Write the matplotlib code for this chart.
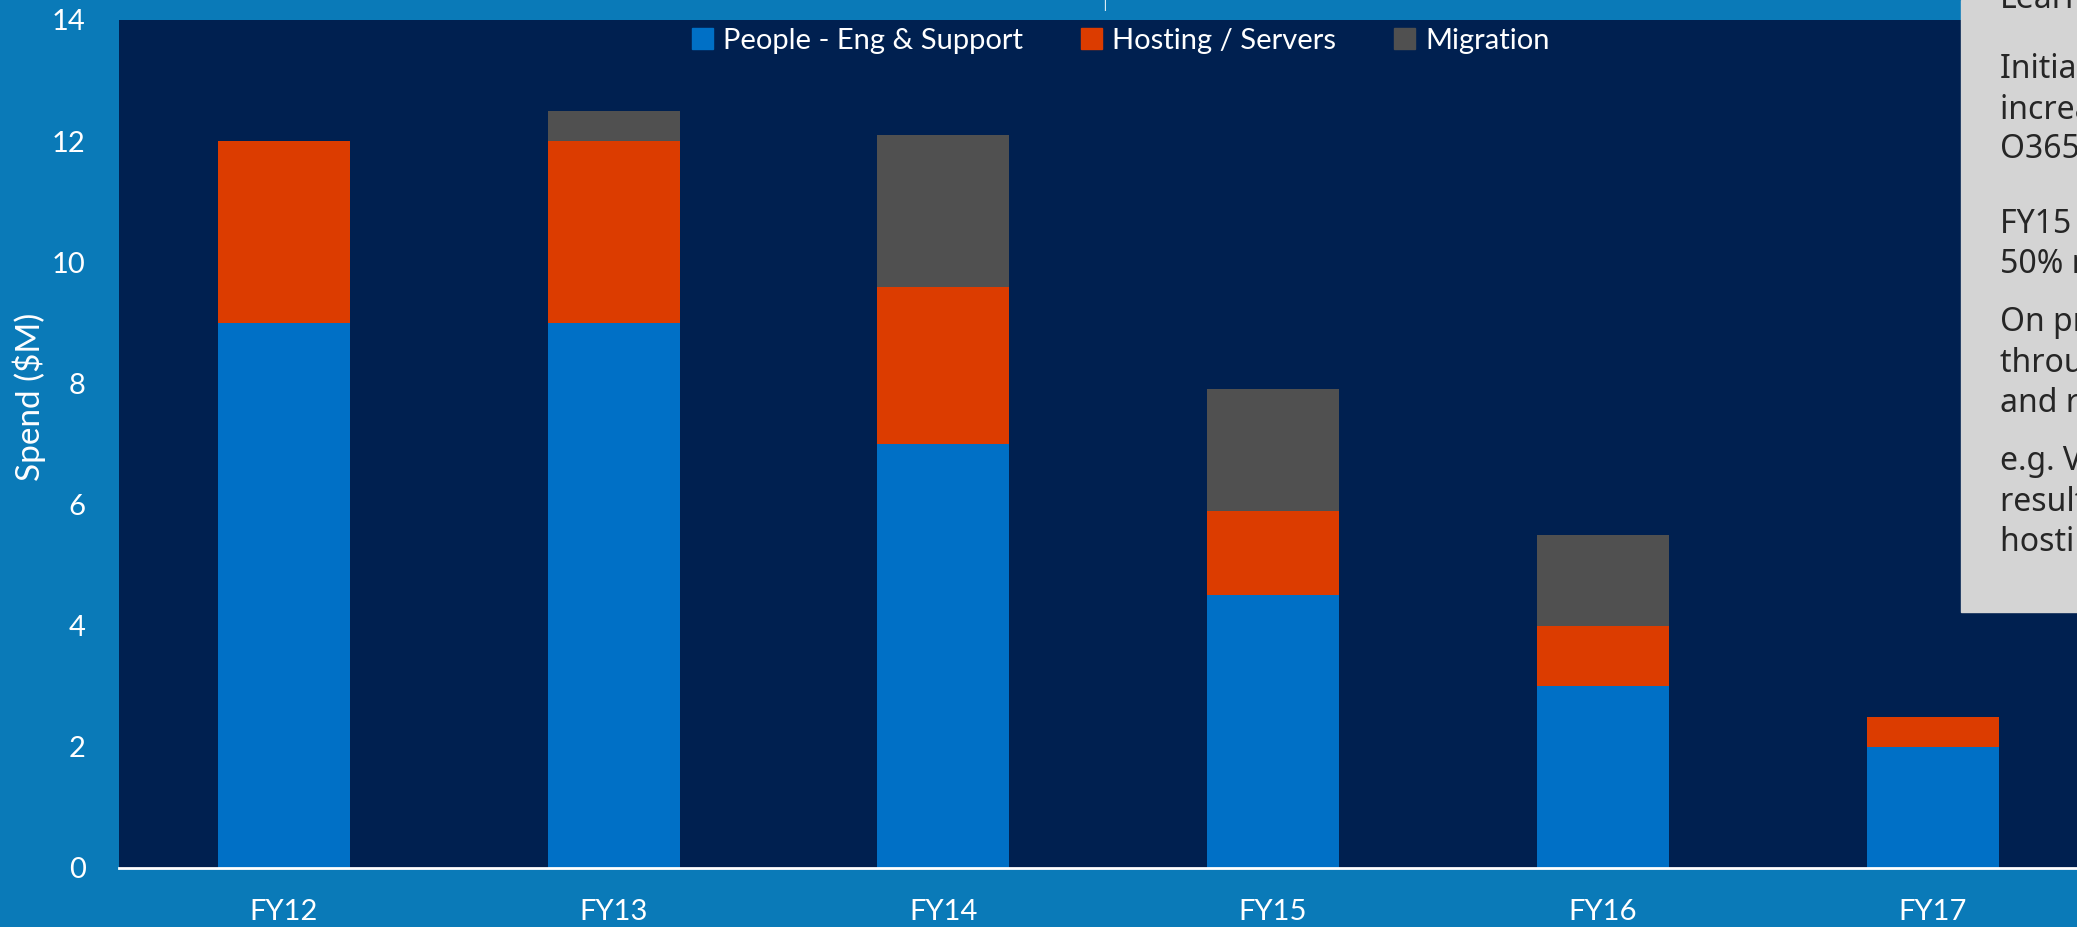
import matplotlib
matplotlib.use("Agg")
import matplotlib.pyplot as plt
import matplotlib.patches as mpatches

# values ($M)
years = ["FY12", "FY13", "FY14", "FY15", "FY16", "FY17"]
people = [9, 9, 7, 4.5, 3, 2]
hosting = [3, 3, 2.6, 1.4, 1, 0.5]
migration = [0, 0.5, 2.5, 2.0, 1.5, 0]
series_names = ["People - Eng & Support", "Hosting / Servers", "Migration"]
y_ticks = [0, 2, 4, 6, 8, 10, 12, 14]

box_lines = ["Learnings", "Initial spend", "increased by", "O365 migration",
             "FY15 spend", "50% reduction",
             "On premises", "through automation", "and re-use",
             "e.g. VM sizing", "resulted in lower", "hosting costs"]
box_y = [-3, 50, 81, 110, 167, 197, 241, 272, 302, 346, 377, 407]  # px in 1568x700 view

colors = ["#0070C6", "#DC3C00", "#505050"]
fig_bg = "#0A7AB8"
plot_bg = "#002050"
font = "Lato"

def main():
    fig = plt.figure(figsize=(20.77, 9.27), dpi=100, facecolor=fig_bg)
    ax = fig.add_axes([119 / 2077, 1 - 868 / 927, 1 - 119 / 2077, (868 - 20) / 927])
    ax.set_facecolor(plot_bg)

    x = range(len(years))
    bottom2 = [p + h for p, h in zip(people, hosting)]
    ax.bar(x, people, width=0.4, color=colors[0], label=series_names[0])
    ax.bar(x, hosting, width=0.4, bottom=people, color=colors[1], label=series_names[1])
    ax.bar(x, migration, width=0.4, bottom=bottom2, color=colors[2], label=series_names[2])

    ax.set_xlim(-0.5, 5.438)
    ax.set_ylim(0, 14)
    ax.set_yticks(y_ticks)
    ax.set_xticks(list(x))
    ax.set_xticklabels(years)
    for s in ["top", "right", "left"]:
        ax.spines[s].set_visible(False)
    ax.spines["bottom"].set_color("white")
    ax.spines["bottom"].set_linewidth(2)
    ax.tick_params(axis="both", length=0, colors="white", labelsize=21)
    ax.tick_params(axis="y", pad=24)
    ax.tick_params(axis="x", pad=22)
    for lab in ax.get_xticklabels() + ax.get_yticklabels():
        lab.set_family(font)

    handles = [mpatches.Patch(color=c, label=n) for c, n in zip(colors, series_names)]
    leg = ax.legend(handles=handles, loc="upper center", bbox_to_anchor=(0.5117, 1.022),
                    ncol=3, frameon=False, handlelength=0.7, handleheight=0.7,
                    handletextpad=0.35, columnspacing=2.0,
                    prop={"family": font, "size": 21})
    for t in leg.get_texts():
        t.set_color("white")

    fig.text(29 / 2077, 1 - 397 / 927, "Spend ($M)", rotation=90, color="white",
             ha="center", va="center", fontsize=24, family=font)

    # slide title sitting just above the crop
    fig.text(1104 / 2077 - 0.0235, 1.0 + 3 / 927, "Spend", color="white", ha="left",
             va="baseline", fontsize=58, family=font, weight="light")

    # grey notes panel on the right
    fig.patches.append(mpatches.Rectangle((1961 / 2077, 1 - 612 / 927), 1, 612 / 927,
                                          transform=fig.transFigure, color="#D4D4D4",
                                          zorder=5))
    for line, yy in zip(box_lines, box_y):
        fig.text(2000 / 2077, 1 - ((yy + 9) * 1.3246) / 927, line, color="#262626",
                 ha="left", va="baseline", fontsize=23, family="Noto Sans", zorder=6)

    fig.savefig("out.png", dpi=100, facecolor=fig_bg)

if __name__ == "__main__":
    main()
